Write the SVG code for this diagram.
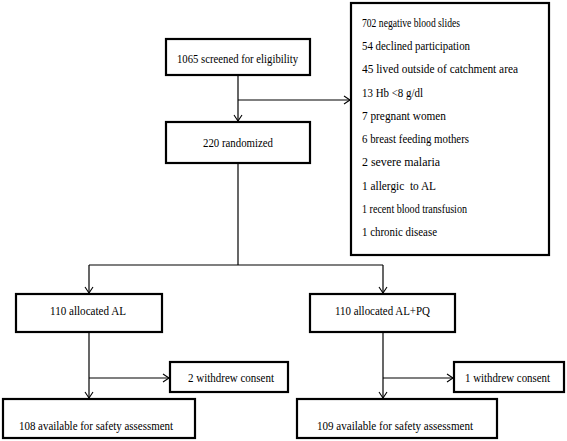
<svg xmlns="http://www.w3.org/2000/svg" width="567" height="441" viewBox="0 0 567 441" font-family="'Liberation Serif', 'DejaVu Serif', serif" font-size="12">
<defs>
<marker id="arr" markerWidth="10" markerHeight="10" refX="8" refY="5" orient="auto" markerUnits="userSpaceOnUse">
<path d="M2,1 L8,5 L2,9" fill="none" stroke="#000" stroke-width="1.1"/>
</marker>
<style>
.box{fill:#fff;stroke:#000;stroke-width:2.2}
.ln{fill:none;stroke:#000;stroke-width:1.2}
.t{font-family:"Liberation Serif","DejaVu Serif",serif;font-size:12px;fill:#000}
</style>
</defs>
<rect width="567" height="441" fill="#fff"/>
<g id="connectors">
<line class="ln" x1="238" y1="75" x2="238" y2="121" marker-end="url(#arr)"/>
<line class="ln" x1="238" y1="100" x2="350" y2="100" marker-end="url(#arr)"/>
<line class="ln" x1="238" y1="163" x2="238" y2="265"/>
<line class="ln" x1="89" y1="265" x2="383" y2="265"/>
<line class="ln" x1="89" y1="265" x2="89" y2="293" marker-end="url(#arr)"/>
<line class="ln" x1="383" y1="265" x2="383" y2="293" marker-end="url(#arr)"/>
<line class="ln" x1="89" y1="332" x2="89" y2="398" marker-end="url(#arr)"/>
<line class="ln" x1="89" y1="378" x2="169" y2="378" marker-end="url(#arr)"/>
<line class="ln" x1="383" y1="332" x2="383" y2="398" marker-end="url(#arr)"/>
<line class="ln" x1="383" y1="378" x2="453" y2="378" marker-end="url(#arr)"/>
</g>
<g id="screened">
<rect class="box" x="166" y="39" width="144" height="36"/>
<text class="t" x="177" y="63" textLength="121" lengthAdjust="spacingAndGlyphs">1065 screened for eligibility</text>
</g>
<g id="randomized">
<rect class="box" x="166" y="122" width="144" height="41"/>
<text class="t" x="203" y="147" textLength="70" lengthAdjust="spacingAndGlyphs">220 randomized</text>
</g>
<g id="excluded">
<rect class="box" x="351" y="3" width="198" height="252"/>
<text class="t" x="362" y="27" textLength="98" lengthAdjust="spacingAndGlyphs">702 negative blood slides</text>
<text class="t" x="362" y="50" textLength="108" lengthAdjust="spacingAndGlyphs">54 declined participation</text>
<text class="t" x="362" y="73" textLength="156" lengthAdjust="spacingAndGlyphs">45 lived outside of catchment area</text>
<text class="t" x="362" y="97" textLength="61" lengthAdjust="spacingAndGlyphs">13 Hb &lt;8 g/dl</text>
<text class="t" x="362" y="120" textLength="84" lengthAdjust="spacingAndGlyphs">7 pregnant women</text>
<text class="t" x="362" y="143" textLength="107" lengthAdjust="spacingAndGlyphs">6 breast feeding mothers</text>
<text class="t" x="362" y="166" textLength="78" lengthAdjust="spacingAndGlyphs">2 severe malaria</text>
<text class="t" x="362" y="190" textLength="74" lengthAdjust="spacingAndGlyphs" xml:space="preserve">1 allergic  to AL</text>
<text class="t" x="362" y="213" textLength="105" lengthAdjust="spacingAndGlyphs">1 recent blood transfusion</text>
<text class="t" x="362" y="236" textLength="75" lengthAdjust="spacingAndGlyphs">1 chronic disease</text>
</g>
<g id="alloc-al">
<rect class="box" x="16" y="294" width="146" height="38"/>
<text class="t" x="50" y="315" textLength="76" lengthAdjust="spacingAndGlyphs">110 allocated AL</text>
</g>
<g id="alloc-alpq">
<rect class="box" x="310" y="294" width="145" height="38"/>
<text class="t" x="335" y="315" textLength="95" lengthAdjust="spacingAndGlyphs">110 allocated AL+PQ</text>
</g>
<g id="withdrew-al">
<rect class="box" x="170" y="362" width="118" height="30"/>
<text class="t" x="188" y="382" textLength="86" lengthAdjust="spacingAndGlyphs">2 withdrew consent</text>
</g>
<g id="withdrew-alpq">
<rect class="box" x="454" y="362" width="110" height="30"/>
<text class="t" x="465" y="382" textLength="85" lengthAdjust="spacingAndGlyphs">1 withdrew consent</text>
</g>
<g id="safety-al">
<rect class="box" x="3" y="399" width="192" height="39"/>
<text class="t" x="19" y="430" textLength="154" lengthAdjust="spacingAndGlyphs">108 available for safety assessment</text>
</g>
<g id="safety-alpq">
<rect class="box" x="297" y="399" width="200" height="39"/>
<text class="t" x="317" y="430" textLength="156" lengthAdjust="spacingAndGlyphs">109 available for safety assessment</text>
</g>
</svg>
